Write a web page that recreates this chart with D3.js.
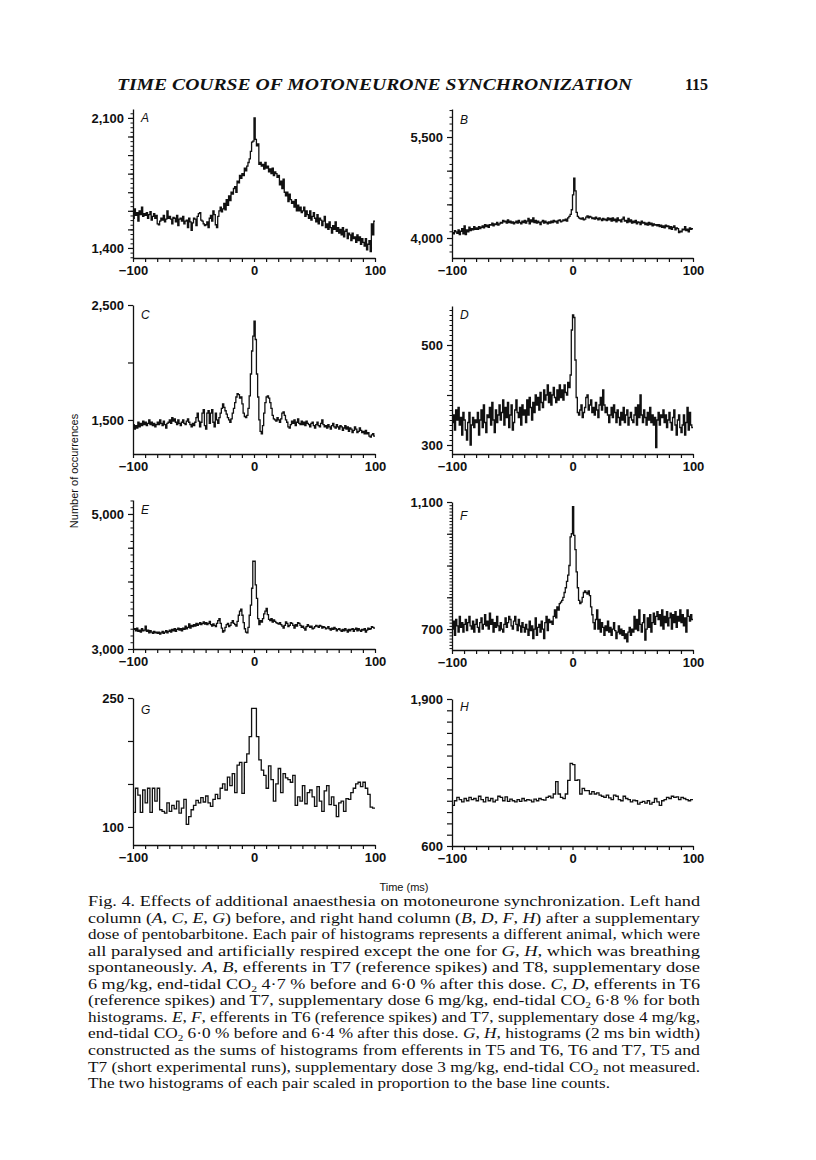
<!DOCTYPE html>
<html>
<head>
<meta charset="utf-8">
<script src="https://cdnjs.cloudflare.com/ajax/libs/d3/7.8.5/d3.min.js"></script>
<style>
  body { margin: 0; background: #fff; }
  svg { display: block; }
  .tick text { font-family: "Liberation Sans", Arial, sans-serif; font-weight: bold; font-size: 13px; }
</style>
</head>
<body>
<div id="fig"></div>
<script>
// histogram counts, 1 ms bins (A-F) and 2 ms bins (G, H), from -100 ms
const countsA = [
  1560,1610,1575,1590,1545,1600,1580,1620,1570,1585, 1575,1590,1560,1580,1595,1550,1570,1585,1560,1575,
  1530,1525,1545,1560,1550,1575,1540,1555,1600,1560, 1570,1555,1530,1565,1560,1540,1575,1520,1555,1560,
  1545,1570,1530,1545,1550,1510,1560,1540,1495,1535, 1560,1555,1520,1570,1585,1590,1550,1545,1530,1520,
  1525,1540,1510,1560,1575,1545,1600,1580,1525,1510, 1570,1600,1620,1595,1610,1640,1605,1660,1630,1680,
  1655,1700,1690,1720,1730,1700,1760,1750,1790,1775, 1800,1790,1830,1815,1840,1860,1880,1920,1970,1975,
  2100,1985,1950,1960,1850,1860,1840,1850,1825,1860, 1830,1840,1810,1825,1800,1830,1790,1810,1800,1780,
  1790,1740,1760,1720,1770,1700,1680,1700,1650,1690, 1660,1640,1650,1620,1660,1600,1630,1600,1620,1590,
  1600,1620,1570,1600,1580,1560,1600,1550,1570,1590, 1560,1540,1580,1530,1560,1550,1520,1545,1570,1510,
  1530,1500,1540,1510,1480,1520,1500,1540,1490,1510, 1480,1500,1470,1510,1460,1490,1500,1450,1480,1470,
  1440,1480,1450,1460,1430,1470,1440,1460,1420,1450, 1430,1410,1450,1390,1420,1440,1380,1530,1470,1545
];
const countsB = [
  4080,4060,4110,4090,4070,4120,4050,4100,4140,4060, 4180,4050,4120,4090,4160,4110,4140,4120,4170,4130,
  4150,4130,4170,4140,4160,4180,4150,4200,4170,4190, 4160,4200,4190,4220,4180,4210,4200,4230,4190,4210,
  4230,4220,4260,4240,4250,4220,4270,4230,4250,4220, 4240,4210,4230,4250,4220,4260,4230,4210,4250,4230,
  4260,4220,4250,4290,4210,4270,4240,4300,4230,4260, 4220,4250,4230,4200,4240,4260,4220,4250,4230,4210,
  4240,4220,4250,4230,4260,4240,4250,4220,4260,4270, 4240,4250,4270,4260,4280,4250,4300,4320,4350,4420,
  4640,4890,4700,4380,4320,4300,4290,4280,4300,4270, 4280,4310,4330,4300,4320,4310,4290,4300,4280,4310,
  4290,4270,4300,4280,4260,4290,4270,4280,4260,4300, 4270,4290,4250,4300,4260,4280,4240,4300,4260,4270,
  4240,4280,4310,4250,4260,4230,4290,4240,4270,4220, 4250,4230,4260,4210,4240,4230,4200,4250,4220,4230,
  4200,4220,4190,4230,4200,4220,4180,4210,4190,4200, 4180,4200,4170,4190,4160,4180,4150,4190,4170,4180,
  4140,4170,4130,4160,4180,4120,4150,4140,4080,4100, 4090,4130,4120,4170,4110,4130,4090,4150,4130,4140
];
const countsC = [
  1460,1420,1450,1430,1480,1440,1470,1450,1490,1460, 1480,1450,1470,1500,1460,1480,1450,1470,1440,1460,
  1480,1460,1500,1470,1450,1490,1460,1430,1470,1480, 1500,1470,1520,1490,1510,1480,1460,1500,1470,1450,
  1480,1500,1470,1460,1490,1510,1480,1460,1440,1470, 1450,1480,1520,1560,1490,1440,1480,1560,1590,1450,
  1420,1560,1580,1470,1560,1590,1480,1440,1560,1500, 1470,1520,1560,1600,1640,1610,1580,1550,1520,1500,
  1480,1510,1560,1600,1650,1700,1730,1720,1690,1700, 1640,1560,1530,1520,1540,1600,1710,1900,2100,2230,
  2360,2200,1900,1700,1500,1400,1380,1450,1560,1650, 1700,1710,1690,1650,1600,1540,1510,1500,1490,1520,
  1500,1480,1510,1560,1570,1540,1500,1480,1440,1430, 1460,1490,1470,1500,1450,1480,1510,1470,1460,1490,
  1460,1480,1450,1490,1470,1460,1440,1470,1480,1450, 1430,1460,1480,1450,1440,1470,1500,1460,1440,1450,
  1430,1460,1440,1420,1450,1470,1440,1430,1460,1440, 1420,1450,1440,1410,1430,1450,1420,1440,1400,1430,
  1420,1390,1410,1440,1420,1390,1400,1430,1410,1390, 1400,1380,1410,1380,1390,1360,1350,1370,1380,1360
];
const countsD = [
  345,360,330,370,350,375,340,355,320,365, 350,330,310,345,365,300,340,355,335,350,
  345,365,320,350,370,335,380,345,325,360, 355,375,340,385,350,325,370,345,360,380,
  350,365,390,340,375,355,385,335,360,380, 330,345,370,390,365,355,375,340,380,360,
  370,345,390,360,395,375,350,385,365,400, 380,395,370,405,385,375,410,390,400,420,
  385,405,380,400,415,395,385,410,390,420, 395,410,390,420,405,400,425,415,440,530,
  560,555,470,395,365,360,370,380,355,365, 375,395,400,370,380,390,365,375,360,385,
  370,355,380,395,370,410,380,365,375,360, 345,360,375,355,380,365,345,370,355,340,
  365,350,375,345,360,370,340,355,365,350, 345,360,375,340,380,355,400,360,345,370,
  355,340,365,350,375,345,360,340,355,295, 350,365,340,360,355,370,345,360,335,350,
  365,345,330,355,370,340,320,350,360,335, 325,340,360,320,345,375,330,365,340,335
];
const countsE = [
  3290,3300,3270,3310,3260,3280,3250,3300,3270,3280, 3340,3260,3280,3240,3270,3250,3230,3260,3240,3250,
  3230,3250,3220,3240,3260,3230,3250,3270,3240,3260, 3280,3250,3290,3270,3300,3260,3290,3310,3280,3300,
  3270,3310,3290,3340,3300,3320,3370,3310,3350,3330, 3360,3340,3380,3350,3370,3390,3360,3380,3400,3370,
  3390,3360,3380,3410,3360,3340,3370,3350,3330,3380, 3420,3450,3380,3310,3250,3270,3320,3360,3380,3330,
  3350,3390,3420,3380,3360,3340,3410,3500,3560,3590, 3500,3390,3300,3250,3240,3320,3500,3650,3900,4300,
  4300,3950,3750,3450,3360,3420,3400,3450,3520,3560, 3600,3510,3440,3420,3450,3400,3430,3410,3390,3380,
  3370,3390,3360,3340,3310,3350,3400,3380,3330,3350, 3390,3380,3350,3310,3360,3340,3390,3380,3350,3320,
  3340,3310,3280,3330,3360,3340,3320,3340,3300,3310, 3330,3350,3340,3320,3350,3340,3310,3330,3320,3300,
  3310,3330,3300,3280,3310,3290,3320,3300,3270,3290, 3300,3280,3260,3290,3270,3300,3280,3250,3290,3270,
  3290,3300,3260,3290,3310,3270,3300,3280,3260,3290, 3280,3300,3250,3280,3310,3290,3300,3330,3320,3310
];
const countsF = [
  700,725,680,730,710,690,740,705,720,690, 715,730,695,720,740,710,700,725,690,715,
  730,705,690,720,735,700,715,745,710,725, 700,750,715,730,690,720,705,740,710,695,
  720,700,690,715,735,705,720,740,730,710, 700,725,740,715,695,730,710,690,720,705,
  690,715,700,680,725,695,710,670,700,735, 680,705,715,690,725,700,670,720,740,695,
  730,720,725,715,740,760,735,770,760,780, 785,790,800,815,830,850,870,900,990,1000,
  1085,995,950,880,830,790,780,785,800,815, 820,815,810,820,805,770,745,720,700,730,
  760,700,730,690,720,705,680,710,695,725, 690,705,680,700,720,695,670,690,710,685,
  700,680,695,670,685,660,690,705,680,700, 690,740,700,730,695,760,715,690,720,745,
  665,700,735,705,745,690,720,750,715,740, 755,730,745,710,760,700,740,720,755,710,
  735,750,700,745,720,755,705,740,725,760, 720,745,710,735,690,760,740,725,745,730
];
const countsG = [
  117,145,137,117,143,128,145,117,145,130, 145,120,118,116,128,118,125,121,130,116,
  122,132,103,112,120,125,131,128,134,129, 136,128,124,132,138,133,145,150,143,158,
  148,162,140,172,175,139,175,185,205,238, 238,205,178,166,160,145,171,155,130,150,
  168,140,162,157,155,152,160,125,135,130, 148,127,140,143,135,124,147,130,118,142,
  148,126,135,125,112,128,130,118,133,132, 140,145,150,152,147,152,145,138,123,122
];
const countsH = [
  960,1000,1030,1010,990,1020,1000,1030,1010,1020, 1000,1040,1010,990,1030,1000,1020,990,1005,1040,
  1030,1000,1035,995,1015,1000,990,1010,995,1020, 1000,1010,1005,990,1015,1000,1020,1010,1005,1030,
  1040,1025,1060,1170,1060,1030,1019,1060,1180,1330, 1320,1180,1185,1060,1110,1090,1090,1060,1080,1060,
  1070,1050,1040,1030,1050,1025,1010,1050,1040,1010, 1000,1040,1020,1010,990,1005,1000,970,985,995,
  980,1000,970,985,1020,990,960,1000,1010,1030, 1020,1040,1030,1035,1010,1030,1020,1010,1000,1010
];

// labelled tick values
const yLabelsA = [1400, 2100];
const yLabelsB = [4000, 5500];
const yLabelsC = [1500, 2500];
const yLabelsD = [300, 500];
const yLabelsE = [3000, 5000];
const yLabelsF = [700, 1100];
const yLabelsG = [100, 250];
const yLabelsH = [600, 1900];
const xLabels = [-100, 0, 100];

// caption text; ["X","i"] is italic, ["2","s"] is a subscript
const captionLines = [
  ["Fig. 4. Effects of additional anaesthesia on motoneurone synchronization. Left hand"],
  ["column (", ["A", "i"], ", ", ["C", "i"], ", ", ["E", "i"], ", ", ["G", "i"], ") before, and right hand column (", ["B", "i"], ", ", ["D", "i"], ", ", ["F", "i"], ", ", ["H", "i"], ") after a supplementary"],
  ["dose of pentobarbitone. Each pair of histograms represents a different animal, which were"],
  ["all paralysed and artificially respired except the one for ", ["G", "i"], ", ", ["H", "i"], ", which was breathing"],
  ["spontaneously. ", ["A", "i"], ", ", ["B", "i"], ", efferents in T7 (reference spikes) and T8, supplementary dose"],
  ["6 mg/kg, end-tidal CO", ["2", "s"], " 4·7 % before and 6·0 % after this dose. ", ["C", "i"], ", ", ["D", "i"], ", efferents in T6"],
  ["(reference spikes) and T7, supplementary dose 6 mg/kg, end-tidal CO", ["2", "s"], " 6·8 % for both"],
  ["histograms. ", ["E", "i"], ", ", ["F", "i"], ", efferents in T6 (reference spikes) and T7, supplementary dose 4 mg/kg,"],
  ["end-tidal CO", ["2", "s"], " 6·0 % before and 6·4 % after this dose. ", ["G", "i"], ", ", ["H", "i"], ", histograms (2 ms bin width)"],
  ["constructed as the sums of histograms from efferents in T5 and T6, T6 and T7, T5 and"],
  ["T7 (short experimental runs), supplementary dose 3 mg/kg, end-tidal CO", ["2", "s"], " not measured."],
  ["The two histograms of each pair scaled in proportion to the base line counts."]
];

(() => {
  const width = 816, height = 1160;
  const svg = d3.select("#fig").append("svg")
    .attr("width", width).attr("height", height);

  const sans = "'Liberation Sans', Arial, sans-serif";
  const serif = "'Liberation Serif', 'Times New Roman', serif";
  const fmt = d3.format(",");
  const minus = d => (d < 0 ? "\u2212" + Math.abs(d) : String(d));

  // panel layout
  const left = [133, 375], right = [452, 693];
  const panels = [
    { id: "A", counts: countsA, bin: 1, xr: left,  yr: [258, 109], domain: [1346, 2148], labels: yLabelsA, major: 100, minor: 25, ldy: 13 },
    { id: "B", counts: countsB, bin: 1, xr: right, yr: [258, 109], domain: [3703, 5916], labels: yLabelsB, major: 500, minor: 100, ldy: 15 },
    { id: "C", counts: countsC, bin: 1, xr: left,  yr: [454, 305], domain: [1204, 2500], labels: yLabelsC, major: 500, minor: 0, ldy: 14 },
    { id: "D", counts: countsD, bin: 1, xr: right, yr: [454, 306], domain: [282, 578],   labels: yLabelsD, major: 100, minor: 10, ldy: 13 },
    { id: "E", counts: countsE, bin: 1, xr: left,  yr: [649, 500], domain: [3000, 5207], labels: yLabelsE, major: 500, minor: 100, ldy: 14 },
    { id: "F", counts: countsF, bin: 1, xr: right, yr: [650, 502], domain: [634, 1100],  labels: yLabelsF, major: 100, minor: 10, ldy: 18 },
    { id: "G", counts: countsG, bin: 2, xr: left,  yr: [845, 698], domain: [79, 250],    labels: yLabelsG, major: 50,  minor: 0, ldy: 16 },
    { id: "H", counts: countsH, bin: 2, xr: right, yr: [846, 699], domain: [600, 1900],  labels: yLabelsH, major: 100, minor: 0, ldy: 12 }
  ];

  const tickRange = (dom, step) =>
    d3.range(Math.ceil(dom[0] / step) * step, dom[1] + 1e-6, step);

  // draws one histogram with its axes
  const drawPanel = p => {
    const g = svg.append("g").attr("class", "panel-" + p.id);
    const x = d3.scaleLinear().domain([-100, 100]).range(p.xr);
    const y = d3.scaleLinear().domain(p.domain).range(p.yr);

    const bins = p.counts.map((c, i) => ({ t: -100 + i * p.bin, c }));
    bins.push({ t: -100 + p.counts.length * p.bin, c: p.counts[p.counts.length - 1] });

    const line = d3.line()
      .x(d => x(d.t))
      .y(d => y(d.c))
      .curve(d3.curveStepAfter);

    g.append("path")
      .datum(bins)
      .attr("d", line)
      .attr("fill", "none")
      .attr("stroke", "#111")
      .attr("stroke-width", 1.3);

    // minor y ticks
    if (p.minor) {
      g.append("g")
        .attr("transform", `translate(${p.xr[0]},0)`)
        .call(d3.axisLeft(y).tickValues(tickRange(p.domain, p.minor)).tickSize(2.5).tickFormat(""))
        .call(a => a.select(".domain").remove())
        .selectAll("line").attr("stroke", "#111").attr("stroke-width", 1);
    }

    // major y ticks
    const yAxis = g.append("g")
      .attr("transform", `translate(${p.xr[0]},0)`)
      .call(d3.axisLeft(y)
        .tickValues(tickRange(p.domain, p.major))
        .tickSize(5).tickSizeOuter(0).tickPadding(4)
        .tickFormat(d => (p.labels.includes(d) ? fmt(d) : "")));
    yAxis.select(".domain").attr("stroke", "#111").attr("stroke-width", 1.3);
    yAxis.selectAll("line").attr("stroke", "#111").attr("stroke-width", 1.2);
    yAxis.selectAll("text").attr("fill", "#111");

    // x axis
    const xAxis = g.append("g")
      .attr("transform", `translate(0,${p.yr[0]})`)
      .call(d3.axisBottom(x)
        .tickValues(d3.range(-100, 101, 10))
        .tickSize(4).tickSizeOuter(0).tickPadding(4)
        .tickFormat(d => (xLabels.includes(d) ? minus(d) : "")));
    xAxis.select(".domain").attr("stroke", "#111").attr("stroke-width", 1.3);
    xAxis.selectAll("line").attr("stroke", "#111").attr("stroke-width", 1.2);
    xAxis.selectAll("text").attr("fill", "#111");

    // panel letter
    g.append("text")
      .attr("x", p.xr[0] + 8)
      .attr("y", p.yr[1] + p.ldy)
      .attr("font-family", sans)
      .attr("font-style", "italic")
      .attr("font-size", 12)
      .attr("fill", "#111")
      .text(p.id);
  };

  panels.forEach(drawPanel);

  // running head
  svg.append("text")
    .attr("x", 117).attr("y", 90)
    .attr("font-family", serif)
    .attr("font-style", "italic").attr("font-weight", "bold")
    .attr("font-size", 16)
    .attr("textLength", 515).attr("lengthAdjust", "spacingAndGlyphs")
    .attr("fill", "#111")
    .text("TIME COURSE OF MOTONEURONE SYNCHRONIZATION");
  svg.append("text")
    .attr("x", 708).attr("y", 90)
    .attr("text-anchor", "end")
    .attr("font-family", serif).attr("font-weight", "bold")
    .attr("font-size", 16)
    .attr("fill", "#111")
    .text("115");

  // shared axis titles
  svg.append("text")
    .attr("transform", "translate(78,471) rotate(-90)")
    .attr("text-anchor", "middle")
    .attr("font-family", sans).attr("font-size", 11)
    .attr("fill", "#111")
    .text("Number of occurrences");
  svg.append("text")
    .attr("x", 404).attr("y", 891)
    .attr("text-anchor", "middle")
    .attr("font-family", sans).attr("font-size", 11)
    .attr("fill", "#111")
    .text("Time (ms)");

  // caption, justified line by line
  const cap = svg.append("g").attr("font-family", serif).attr("font-size", 14).attr("fill", "#111");
  captionLines.forEach((parts, i) => {
    const last = i === captionLines.length - 1;
    const t = cap.append("text")
      .attr("x", 88)
      .attr("y", 906 + i * 16.55)
      .attr("textLength", last ? 522 : 612)
      .attr("lengthAdjust", "spacingAndGlyphs");
    let shifted = false;
    parts.forEach(part => {
      const span = t.append("tspan");
      if (shifted) { span.attr("dy", -3); shifted = false; }
      if (typeof part === "string") {
        span.text(part);
      } else if (part[1] === "i") {
        span.attr("font-style", "italic").text(part[0]);
      } else {
        span.attr("font-size", 9).attr("dy", 3).text(part[0]);
        shifted = true;
      }
    });
  });
})();
</script>
</body>
</html>
